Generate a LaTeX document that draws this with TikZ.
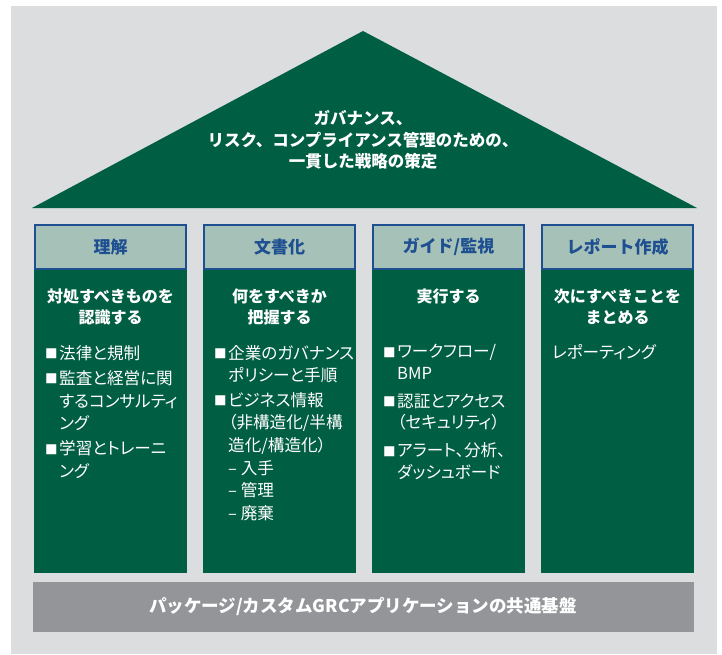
\documentclass[tikz,border=0pt]{standalone}
\usepackage{fontspec}
\setmainfont{Noto Sans CJK JP}
\newfontfamily\bodyfont{Noto Sans CJK JP}[RawFeature=+palt]
\definecolor{grn}{HTML}{005E42}
\definecolor{hdfill}{HTML}{A6C1B7}
\definecolor{hdblue}{HTML}{1D4F91}
\definecolor{bggray}{HTML}{DCDDDF}
\definecolor{bargray}{HTML}{939598}
\newcommand{\bul}{\makebox[14pt][l]{\raisebox{0.5pt}{\fontsize{12.5}{12.5}\selectfont ■}}}
\newcommand{\ind}{\hspace*{14pt}}
\tikzset{
  colbody/.style={fill=grn, draw=none},
  hdbox/.style={fill=hdfill, draw=hdblue, line width=2pt},
  hdtext/.style={text=hdblue, font=\fontsize{17}{17}\selectfont\bfseries, inner sep=0},
  bodyhead/.style={text=white, align=center, font=\fontsize{16}{21}\selectfont\bfseries, inner sep=0},
  listtext/.style={text=white, align=left, font=\bodyfont\fontsize{16.6}{22.7}\selectfont, inner sep=0, anchor=north west},
  rooftext/.style={text=white, align=center, font=\fontsize{16.5}{21.5}\selectfont\bfseries, inner sep=0},
  bartext/.style={text=white, font=\fontsize{17.5}{17.5}\selectfont\bfseries, inner sep=0},
}
\begin{document}
\begin{tikzpicture}[x=1pt,y=-1pt]
\useasboundingbox (0,0) rectangle (722,654);
\fill[white] (0,0) rectangle (722,654);
\fill[bggray] (11,6) rectangle (717,654);
% roof
\fill[grn] (32,208) -- (363,31) -- (697,208) -- cycle;
\node[rooftext] (roof) at (363,140) {ガバナンス、\\リスク、コンプライアンス管理のための、\\一貫した戦略の策定};
% columns
\foreach \i/\x in {1/34,2/203,3/372,4/541}{
  \fill[colbody] (\x,269) rectangle ++(153,304);
  \draw[hdbox] (\x+1,225) rectangle ++(151,44);
}
\node[hdtext] (h1) at (110.5,247) {理解};
\node[hdtext] (h2) at (279.5,247) {文書化};
\node[hdtext] (h3) at (448.5,247) {ガイド/監視};
\node[hdtext] (h4) at (617.5,247) {レポート作成};
\node[bodyhead] (b1) at (110.5,306.5) {対処すべきものを\\認識する};
\node[bodyhead] (b2) at (279.5,306.5) {何をすべきか\\把握する};
\node[bodyhead] (b3) at (448.5,296) {実行する};
\node[bodyhead] (b4) at (617.5,306.5) {次にすべきことを\\まとめる};
\node[listtext] (l1) at (45,345) {\bul 法律と規制\\[2.5pt]\bul 監査と経営に関\\\ind するコンサルティ\\\ind ング\\[2.5pt]\bul 学習とトレーニ\\\ind ング};
\node[listtext] (l2) at (214,345) {\bul 企業のガバナンス\\\ind ポリシーと手順\\[1.5pt]\bul ビジネス情報\\\ind （非構造化/半構\\\ind 造化/構造化）\\\ind – 入手\\\ind – 管理\\\ind – 廃棄};
\node[listtext, font=\bodyfont\fontsize{16.6}{21.5}\selectfont] (l3) at (383,344) {\bul ワークフロー/\\\ind BMP\\[6.5pt]\bul 認証とアクセス\\\ind （セキュリティ）\\[6.5pt]\bul アラート、分析、\\\ind ダッシュボード};
\node[listtext] (l4) at (552,344) {レポーティング};
% foundation bar
\fill[bargray] (33,582) rectangle (694,632);
\node[bartext] (bar) at (363,607) {パッケージ/カスタムGRCアプリケーションの共通基盤};
\end{tikzpicture}
\end{document}
